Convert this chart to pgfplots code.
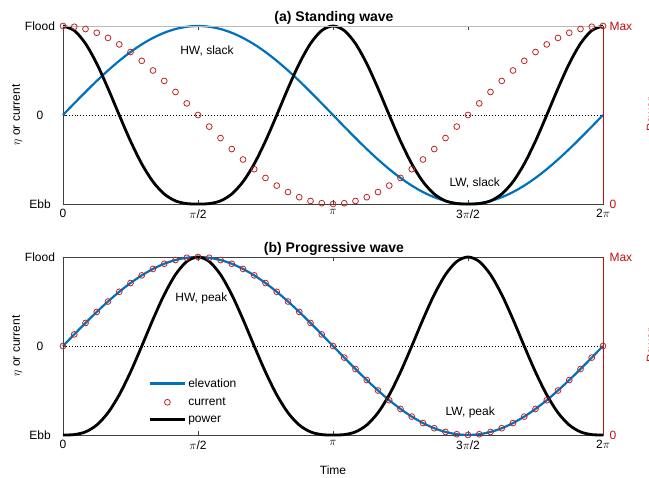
\documentclass[border=0pt]{standalone}
\usepackage{pgfplots}
\pgfplotsset{compat=1.18}
\usepackage{pgfplotstable}
\usepackage{fontspec}
\setmainfont{Liberation Sans}
\definecolor{mblue}{rgb}{0,0.447,0.741}
\definecolor{mred}{rgb}{0.75,0.06,0.06}
\definecolor{cred}{rgb}{0.74,0.14,0.14}
% k = time in units of pi/24
\pgfplotstableread{
k sn cs pa pb
0 0 1 1 -1
1 0.1305 0.9914 0.9491 -0.9956
2 0.2588 0.9659 0.8024 -0.9653
3 0.3827 0.9239 0.5772 -0.8879
4 0.5 0.8660 0.2990 -0.75
5 0.6088 0.7934 -0.0013 -0.5488
6 0.7071 0.7071 -0.2929 -0.2929
7 0.7934 0.6088 -0.5488 -0.0013
8 0.8660 0.5 -0.75 0.2990
9 0.9239 0.3827 -0.8879 0.5772
10 0.9659 0.2588 -0.9653 0.8024
11 0.9914 0.1305 -0.9956 0.9491
12 1 0 -1 1
13 0.9914 -0.1305 -0.9956 0.9491
14 0.9659 -0.2588 -0.9653 0.8024
15 0.9239 -0.3827 -0.8879 0.5772
16 0.8660 -0.5 -0.75 0.2990
17 0.7934 -0.6088 -0.5488 -0.0013
18 0.7071 -0.7071 -0.2929 -0.2929
19 0.6088 -0.7934 -0.0013 -0.5488
20 0.5 -0.8660 0.2990 -0.75
21 0.3827 -0.9239 0.5772 -0.8879
22 0.2588 -0.9659 0.8024 -0.9653
23 0.1305 -0.9914 0.9491 -0.9956
24 0 -1 1 -1
25 -0.1305 -0.9914 0.9491 -0.9956
26 -0.2588 -0.9659 0.8024 -0.9653
27 -0.3827 -0.9239 0.5772 -0.8879
28 -0.5 -0.8660 0.2990 -0.75
29 -0.6088 -0.7934 -0.0013 -0.5488
30 -0.7071 -0.7071 -0.2929 -0.2929
31 -0.7934 -0.6088 -0.5488 -0.0013
32 -0.8660 -0.5 -0.75 0.2990
33 -0.9239 -0.3827 -0.8879 0.5772
34 -0.9659 -0.2588 -0.9653 0.8024
35 -0.9914 -0.1305 -0.9956 0.9491
36 -1 0 -1 1
37 -0.9914 0.1305 -0.9956 0.9491
38 -0.9659 0.2588 -0.9653 0.8024
39 -0.9239 0.3827 -0.8879 0.5772
40 -0.8660 0.5 -0.75 0.2990
41 -0.7934 0.6088 -0.5488 -0.0013
42 -0.7071 0.7071 -0.2929 -0.2929
43 -0.6088 0.7934 -0.0013 -0.5488
44 -0.5 0.8660 0.2990 -0.75
45 -0.3827 0.9239 0.5772 -0.8879
46 -0.2588 0.9659 0.8024 -0.9653
47 -0.1305 0.9914 0.9491 -0.9956
48 0 1 1 -1
}\wave

\begin{document}
\begin{tikzpicture}[font=\fontsize{12}{14}\selectfont]
\pgfplotsset{
  base/.style={scale only axis, width=540pt, height=178pt, xmin=0, xmax=48,
    ymin=-1, ymax=1, anchor=south west},
  leftax/.style={base,
    xtick={0,12,24,36,48},
    xticklabels={0,$\pi$/2,$\pi$,3$\pi$/2,2$\pi$},
    ytick={-1,0,1}, yticklabels={Ebb,0,Flood},
    tick align=inside, major tick length=4pt,
    ytick pos=left, xtick pos=both,
    axis line style={black!75, line width=0.7pt},
    tick style={black!75, line width=0.6pt},
    yticklabel style={anchor=center, xshift=-23pt},
    xticklabel style={yshift=-2pt},
    clip=false,
    legend image code/.code={\draw[mark repeat=2,mark phase=2,##1] plot coordinates {(0pt,0pt) (17.5pt,0pt) (35pt,0pt)};},
  },
  rightax/.style={base, axis x line=none, axis y line*=right,
    ymin=0, ymax=1, ytick={0,1}, yticklabels={0,Max},
    y axis line style={mred, line width=0.8pt},
    yticklabel style={mred, xshift=3pt}, major tick length=0pt},
  elev/.style={mblue, line width=2.2pt, smooth},
  curr/.style={only marks, mark=o, mark size=2.9pt, mark options={cred, line width=0.8pt}},
  powr/.style={black, line width=2.8pt, smooth},
}
% ---------- (a) Standing wave ----------
\begin{axis}[leftax, at={(63pt,274pt)}]
\addplot[black, dotted, line width=0.9pt, forget plot] coordinates {(0,0) (48,0)};
\addplot[elev] table[x=k, y=sn] {\wave};
\addplot[curr] table[x=k, y=cs] {\wave};
\addplot[powr] table[x=k, y=pa] {\wave};
\node at (axis cs:12.8,0.72) {HW, slack};
\node at (axis cs:36.6,-0.76) {LW, slack};
\draw[gray!55, line width=0.8pt] (rel axis cs:0,1) -- (rel axis cs:1,1);
\end{axis}
\begin{axis}[rightax, at={(63pt,274pt)}]
\end{axis}
% ---------- (b) Progressive wave ----------
\begin{axis}[leftax, at={(63pt,43pt)},
  legend style={draw=none, fill=none, inner sep=0pt, at={(rel axis cs:0.158,0.33)},
    anchor=north west, row sep=5pt, nodes={inner sep=2pt}, font=\fontsize{12}{14}\selectfont},
  legend cell align=left]
\addplot[black, dotted, line width=0.9pt, forget plot] coordinates {(0,0) (48,0)};
\addplot[elev] table[x=k, y=sn] {\wave};
\addlegendentry{elevation}
\addplot[curr] table[x=k, y=sn] {\wave};
\addlegendentry{current}
\addplot[powr] table[x=k, y=pb] {\wave};
\addlegendentry{power}
\node at (axis cs:12.3,0.53) {HW, peak};
\node at (axis cs:36.2,-0.75) {LW, peak};
\end{axis}
\begin{axis}[rightax, at={(63pt,43pt)}]
\end{axis}
% ---------- titles and labels ----------
\node[anchor=base, font=\fontsize{14}{16}\selectfont\bfseries] at (334pt,456pt) {(a) Standing wave};
\node[anchor=base, font=\fontsize{14}{16}\selectfont\bfseries] at (334pt,225pt) {(b) Progressive wave};
\node[anchor=base] at (333pt,3pt) {Time};
\node[rotate=90, anchor=base] at (20pt,363pt) {$\eta$ or current};
\node[rotate=90, anchor=base] at (20pt,132pt) {$\eta$ or current};
\node[rotate=90, anchor=base, text=mred] at (655pt,363pt) {Power};
\node[rotate=90, anchor=base, text=mred] at (655pt,132pt) {Power};
\pgfresetboundingbox
\path[use as bounding box] (0pt,0pt) rectangle (649pt,478pt);
\end{tikzpicture}
\end{document}
